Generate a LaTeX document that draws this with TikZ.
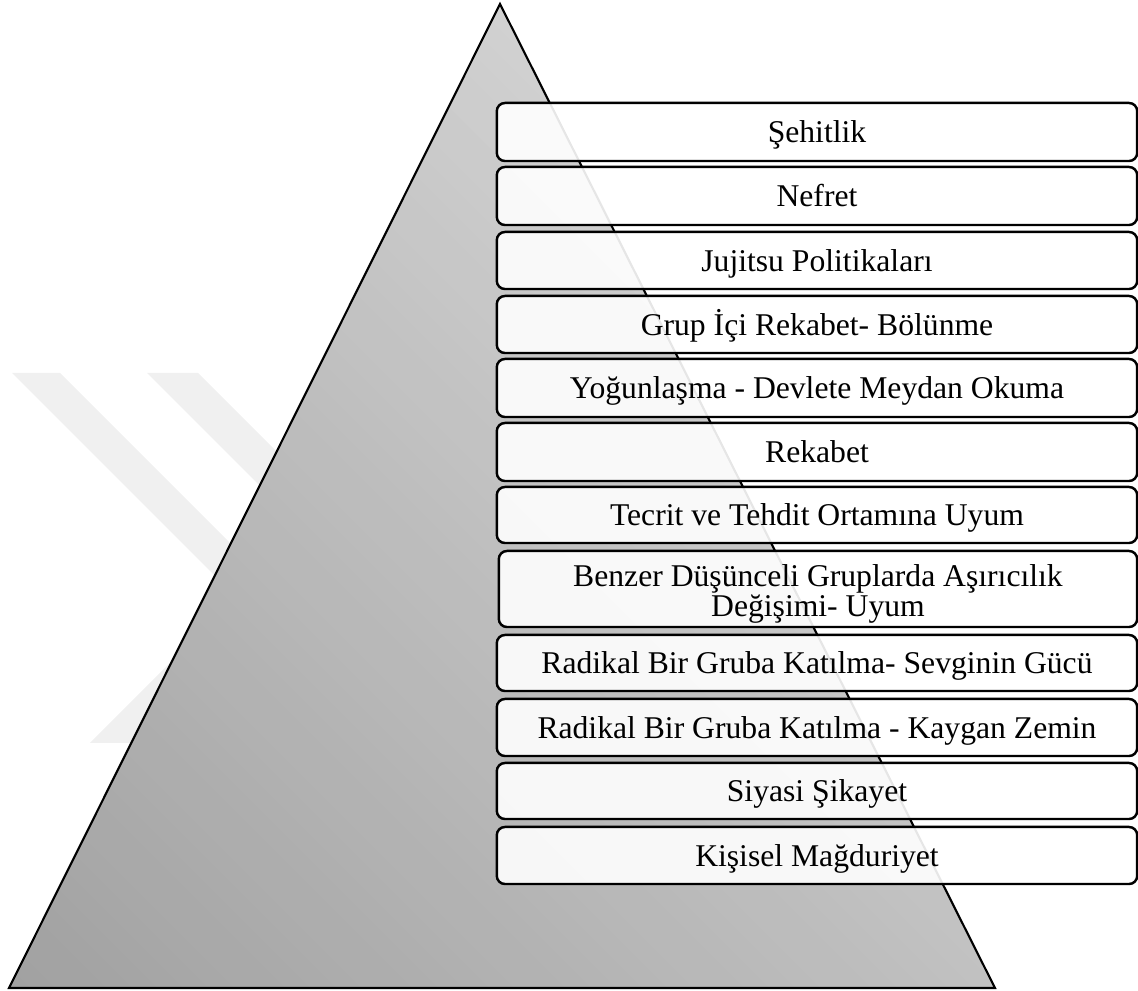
\documentclass[tikz,border=0pt]{standalone}
\usepackage{fontspec}
\setmainfont{Liberation Serif}
\definecolor{wmark}{RGB}{240,240,240}
\tikzset{
  stepbox/.style={draw=black, line width=0.7pt, rounded corners=2.3pt,
    fill=white, fill opacity=0.9, text opacity=1, inner sep=0pt,
    minimum width=6.4cm, font=\fontsize{9}{8.6}\selectfont},
  oneline/.style={stepbox, text height=7.6pt, text depth=1.6pt},
  steptext/.style={inner sep=0pt, align=center, font=\fontsize{9}{8.6}\selectfont},
  wm/.style={fill=wmark, draw=none}
}
\begin{document}
\begin{tikzpicture}[x=0.01cm,y=-0.01cm]
\useasboundingbox (0,0) rectangle (1138,991);
% faint watermark stripes
\fill[wm] (12,373) -- (60,373) -- (330,643) -- (282,643) -- cycle;
\fill[wm] (147,373) -- (198,373) -- (398,573) -- (347,573) -- cycle;
\fill[wm] (90,743) -- (138,743) -- (338,543) -- (290,543) -- cycle;
% pyramid
\coordinate (apex) at (500,4);
\coordinate (bl) at (9,988);
\coordinate (br) at (995,988);
\begin{scope}
  \clip (apex) -- (bl) -- (br) -- cycle;
  \foreach \i in {0,...,59}{
    \pgfmathsetmacro\ca{-520+25.5*\i}
    \pgfmathsetmacro\cb{\ca+27}
    \pgfmathsetmacro\k{18+(\ca+508.75)*0.012881}
    \fill[black!\k!white] (-100,{-100+\ca}) -- (1200,{1200+\ca}) -- (1200,{1200+\cb}) -- (-100,{-100+\cb}) -- cycle;
  }
\end{scope}
\draw[line width=0.6pt, line join=miter] (apex) -- (bl) -- (br) -- cycle;
% steps
\node[oneline, minimum height=0.58cm] (s1) at (817,132) {Şehitlik};
\node[oneline, minimum height=0.58cm] (s2) at (817,196) {Nefret};
\node[oneline, minimum height=0.57cm] (s3) at (817,260.5) {Jujitsu Politikaları};
\node[oneline, minimum height=0.57cm] (s4) at (817,324.5) {Grup İçi Rekabet- Bölünme};
\node[oneline, minimum height=0.58cm] (s5) at (817,388) {Yoğunlaşma - Devlete Meydan Okuma};
\node[oneline, minimum height=0.58cm] (s6) at (817,452) {Rekabet};
\node[oneline, minimum height=0.56cm] (s7) at (817,515) {Tecrit ve Tehdit Ortamına Uyum};
\node[stepbox, minimum width=6.38cm, minimum height=0.76cm] (s8) at (818,589) {};
\node[steptext] (s8t) at (818,594) {Benzer Düşünceli Gruplarda Aşırıcılık\\Değişimi- Uyum};
\node[oneline, minimum height=0.56cm] (s9) at (817,663) {Radikal Bir Gruba Katılma- Sevginin Gücü};
\node[oneline, minimum height=0.57cm] (s10) at (817,727.5) {Radikal Bir Gruba Katılma - Kaygan Zemin};
\node[oneline, minimum height=0.56cm] (s11) at (817,791) {Siyasi Şikayet};
\node[oneline, minimum height=0.57cm] (s12) at (817,855.5) {Kişisel Mağduriyet};
\end{tikzpicture}
\end{document}
